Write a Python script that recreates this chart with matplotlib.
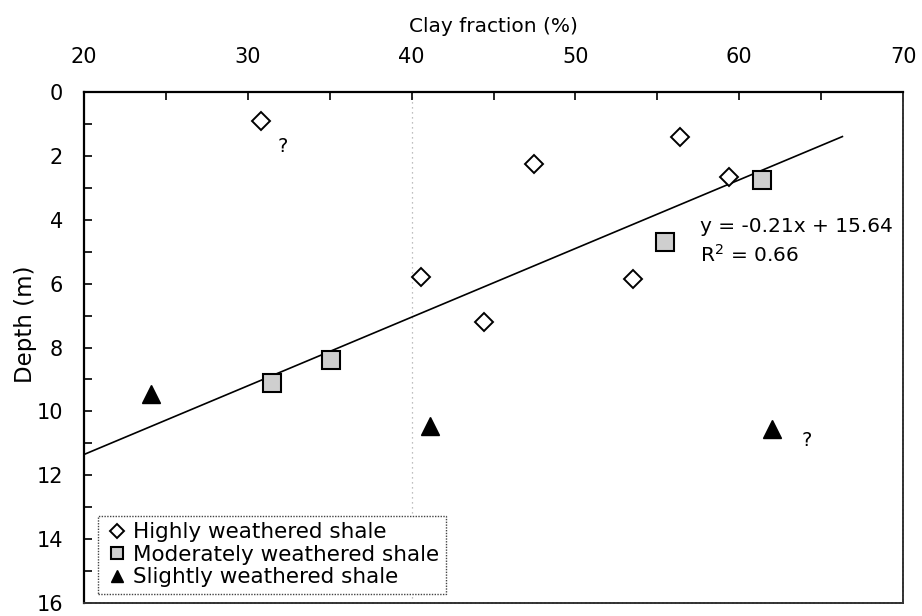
import matplotlib
matplotlib.use("Agg")
import matplotlib.pyplot as plt
import numpy as np

plt.rcParams['font.family'] = ['DejaVu Sans']

# ---- data ----
high_clay = [30.8, 47.5, 56.4, 59.4, 40.6, 53.5, 44.4]
high_depth = [0.9, 2.25, 1.4, 2.65, 5.8, 5.85, 7.2]

mod_clay = [61.4, 55.5, 35.1, 31.5]
mod_depth = [2.75, 4.7, 8.4, 9.1]

slight_clay = [24.1, 41.1, 62.0]
slight_depth = [9.45, 10.45, 10.55]

fit_slope = -0.215
fit_intercept = 15.65
fit_x_range = [20, 66.3]
eq_text = "y = -0.21x + 15.64"
r2_text = "R$^2$ = 0.66"

labels = ["Highly weathered shale", "Moderately weathered shale", "Slightly weathered shale"]
x_ticks = [20, 30, 40, 50, 60, 70]
y_ticks = [0, 2, 4, 6, 8, 10, 12, 14, 16]

# ---- figure ----
fig = plt.figure(figsize=(9.22, 6.16), dpi=100)
ax = fig.add_axes([84/922, 1-603/616, (903-84)/922, (603-92)/616])

ax.set_xlim(20, 70)
ax.set_ylim(16, 0)
ax.xaxis.tick_top()
ax.xaxis.set_label_position('top')
ax.set_xticks(x_ticks)
ax.set_xticks([25, 35, 45, 55, 65], minor=True)
ax.set_yticks(y_ticks)
ax.set_yticks(list(range(1, 16, 2)), minor=True)
ax.tick_params(which='both', direction='in', length=6, width=1.2,
               top=True, bottom=False, left=True, right=False)
ax.tick_params(axis='x', pad=18, labelsize=15)
ax.tick_params(axis='y', pad=15, labelsize=15)

ax.set_xlabel("Clay fraction (%)", fontsize=14.5, labelpad=11)
ax.set_ylabel("Depth (m)", fontsize=16.5)
ax.yaxis.set_label_coords(-0.057, 0.545)

for s in ['top', 'left']:
    ax.spines[s].set_linewidth(1.6)
    ax.spines[s].set_color('black')
for s in ['bottom', 'right']:
    ax.spines[s].set_linewidth(1.4)
    ax.spines[s].set_color('#333333')
    ax.spines[s].set_linestyle((0, (1.5, 0.6)))

# vertical dotted gridline at 40
ax.axvline(40, color='#aaaaaa', lw=0.9, ls=(0, (1, 3)), zorder=0)

# regression line
fx = np.array(fit_x_range)
ax.plot(fx, fit_slope*fx + fit_intercept, color='black', lw=1.2, zorder=2)

ax.plot(high_clay, high_depth, ls='none', marker='D', ms=9.5, mfc='white',
        mec='black', mew=1.4, label=labels[0], zorder=3)
ax.plot(mod_clay, mod_depth, ls='none', marker='s', ms=13, mfc='#cfcfcf',
        mec='black', mew=1.5, label=labels[1], zorder=3)
ax.plot(slight_clay, slight_depth, ls='none', marker='^', ms=13, mfc='black',
        mec='black', mew=1, label=labels[2], zorder=3)

ax.text(57.6, 4.22, eq_text, fontsize=14.5, va='center', ha='left')
ax.text(57.6, 5.1, r2_text, fontsize=14.5, va='center', ha='left')

ax.text(32.15, 1.72, "?", fontsize=14, ha='center', va='center')
ax.text(64.14, 10.9, "?", fontsize=14, ha='center', va='center')

leg = ax.legend(loc='lower left', bbox_to_anchor=(0.017, 0.018), fontsize=15.5,
                frameon=True, fancybox=False, framealpha=1, borderaxespad=0,
                handlelength=1.2, handletextpad=0.15, borderpad=0.3,
                labelspacing=0.12, markerscale=0.7)
fr = leg.get_frame()
fr.set_linestyle((0, (1, 1)))
fr.set_edgecolor('#444444')
fr.set_linewidth(1.0)

fig.savefig("out.png", dpi=100)
